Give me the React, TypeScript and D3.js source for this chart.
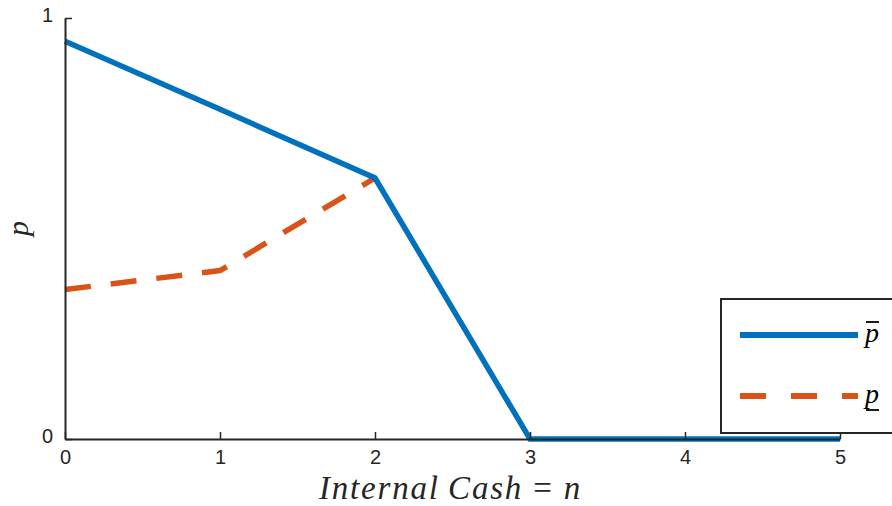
import { useRef, useEffect } from 'react';
import * as d3 from 'd3';

const cashLevels = [0, 1, 2, 3, 4, 5];
const pUpper = [0.945, 0.783, 0.62, 0, 0, 0];
const lowerLevels = [0, 1, 2];
const pLower = [0.355, 0.4, 0.62];
const xTicks = [0, 1, 2, 3, 4, 5];
const yTicks = [0, 1];

const W = 892;
const H = 506;
const MARGIN = { top: 18, right: 52, bottom: 67, left: 65 };
const BLUE = '#0072BD';
const ORANGE = '#D95319';
const AXIS = '#262626';

export default function App() {
  const svgRef = useRef<SVGSVGElement>(null);

  useEffect(() => {
    if (!svgRef.current) return;
    const svg = d3.select(svgRef.current);
    svg.selectAll('*').remove();

    const innerW = W - MARGIN.left - MARGIN.right;
    const innerH = H - MARGIN.top - MARGIN.bottom;

    const x = d3.scaleLinear().domain([0, 5]).range([0, innerW]);
    const y = d3.scaleLinear().domain([0, 1]).range([innerH, 0]);

    const g = svg.append('g').attr('transform', `translate(${MARGIN.left},${MARGIN.top})`);

    // lines
    const line = d3.line<[number, number]>().x((d) => x(d[0])).y((d) => y(d[1]));

    g.append('path')
      .datum(lowerLevels.map((c, i) => [c, pLower[i]] as [number, number]))
      .attr('fill', 'none')
      .attr('stroke', ORANGE)
      .attr('stroke-width', 5.5)
      .attr('stroke-dasharray', '26,20')
      .attr('d', line);

    g.append('path')
      .datum(cashLevels.map((c, i) => [c, pUpper[i]] as [number, number]))
      .attr('fill', 'none')
      .attr('stroke', BLUE)
      .attr('stroke-width', 5.5)
      .attr('stroke-linejoin', 'miter')
      .attr('d', line);

    const tickFont = '"Liberation Sans Narrow", "Liberation Sans", Arial, sans-serif';

    // x axis
    const xAxis = g.append('g')
      .attr('transform', `translate(0,${innerH})`)
      .call(d3.axisBottom(x).tickValues(xTicks).tickSize(-7).tickSizeOuter(0).tickPadding(11).tickFormat(d3.format('d')));
    xAxis.select('.domain').attr('stroke', AXIS).attr('stroke-width', 2);
    xAxis.selectAll('line').attr('stroke', AXIS).attr('stroke-width', 1.5);
    xAxis.selectAll('text')
      .attr('fill', AXIS)
      .style('font-family', tickFont)
      .style('font-size', '20px');

    // y axis
    const yAxis = g.append('g')
      .call(d3.axisLeft(y).tickValues(yTicks).tickSize(-7).tickSizeOuter(0).tickPadding(12).tickFormat(d3.format('d')));
    yAxis.select('.domain').attr('stroke', AXIS).attr('stroke-width', 2);
    yAxis.selectAll('line').attr('stroke', AXIS).attr('stroke-width', 1.5);
    yAxis.selectAll('text')
      .attr('fill', AXIS)
      .attr('dy', '0.15em')
      .style('font-family', tickFont)
      .style('font-size', '20px');

    // axis labels
    const xl = svg.append('text')
      .attr('x', MARGIN.left + innerW / 2 - 2)
      .attr('y', 499)
      .attr('text-anchor', 'middle')
      .attr('fill', AXIS)
      .style('font-family', '"Liberation Serif", "DejaVu Serif", serif')
      .style('font-size', '33px')
      .style('letter-spacing', '1.8px');
    xl.append('tspan').style('font-style', 'italic').text('Internal\u2009Cash ');
    xl.append('tspan').text('= ');
    xl.append('tspan').style('font-style', 'italic').text('n');

    svg.append('text')
      .attr('transform', `translate(28,${MARGIN.top + innerH / 2}) rotate(-90)`)
      .attr('text-anchor', 'middle')
      .attr('fill', AXIS)
      .style('font-family', '"Liberation Serif", "DejaVu Serif", serif')
      .style('font-style', 'italic')
      .style('font-size', '30px')
      .text('p');

    // legend
    const lg = svg.append('g').attr('transform', 'translate(721,299)');
    lg.append('rect')
      .attr('width', 200)
      .attr('height', 134)
      .attr('fill', 'white')
      .attr('stroke', AXIS)
      .attr('stroke-width', 2);

    const items = [
      { color: BLUE, dash: null as string | null, label: 'upper', y: 36 },
      { color: ORANGE, dash: '26,25', label: 'lower', y: 97 },
    ];
    items.forEach((it) => {
      lg.append('line')
        .attr('x1', 19).attr('x2', 137)
        .attr('y1', it.y).attr('y2', it.y)
        .attr('stroke', it.color)
        .attr('stroke-width', 6)
        .attr('stroke-dasharray', it.dash);
      lg.append('text')
        .attr('x', 144)
        .attr('y', it.y + 7)
        .attr('fill', 'black')
        .style('font-family', '"Liberation Serif", "DejaVu Serif", serif')
        .style('font-style', 'italic')
        .style('font-size', '28px')
        .text('p');
      const by = it.label === 'upper' ? it.y - 13 : it.y + 14;
      lg.append('line')
        .attr('x1', 145).attr('x2', 158)
        .attr('y1', by)
        .attr('y2', by)
        .attr('stroke', 'black')
        .attr('stroke-width', 1.8);
    });
  }, []);

  return (
    <div>
      <style>{'body{margin:0}'}</style>
      <svg ref={svgRef} width={W} height={H} style={{ display: 'block', background: 'white' }} />
    </div>
  );
}
